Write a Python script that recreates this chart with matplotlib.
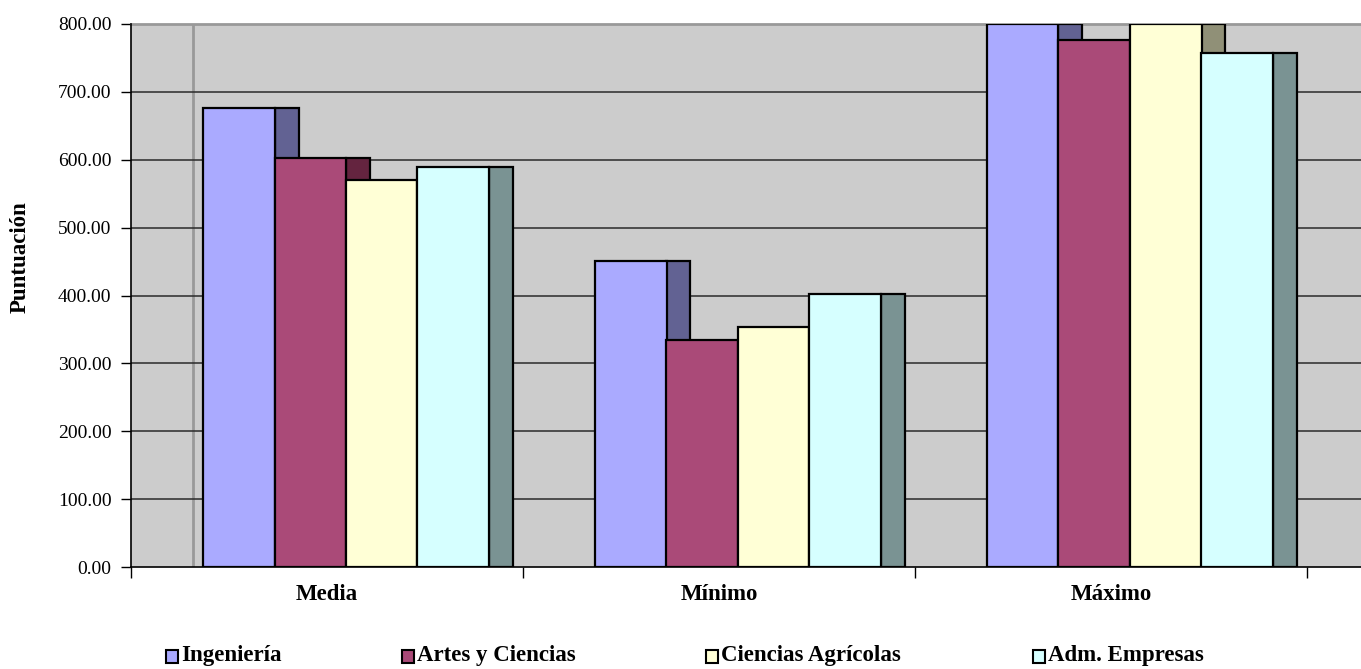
import matplotlib
matplotlib.use('Agg')
import matplotlib.pyplot as plt
from matplotlib.patches import Rectangle
import numpy as np

# data
categories = ['Media', 'Mínimo', 'Máximo']
series = ['Ingeniería', 'Artes y Ciencias', 'Ciencias Agrícolas', 'Adm. Empresas']
ingenieria = [676, 451, 800]
artes = [602, 334, 777]
agricolas = [570, 353, 800]
empresas = [590, 402, 757]
yticks = [0, 100, 200, 300, 400, 500, 600, 700, 800]

front_colors = ['#AAAAFF', '#AA4A78', '#FFFFD6', '#D6FFFF']
side_colors = ['#626293', '#64243F', '#909077', '#7A9393']

plt.rcParams['font.family'] = ['Liberation Serif', 'DejaVu Serif']

W, H = 1361, 669
fig = plt.figure(figsize=(W / 100, H / 100), dpi=100)
ax = fig.add_axes([131 / W, 1 - 567 / H, 1230 / W, 543 / H])
ax.set_facecolor('#CCCCCC')

values = [ingenieria, artes, agricolas, empresas]
x = np.arange(len(categories))
w = 71.5 / 392   # front face width, in category units
d = 24 / 392     # side face depth
offset = 72 / 392

for j, vals in enumerate(values):
    xs = x + offset + j * w
    ax.bar(xs + w, vals, width=d, align='edge', color=side_colors[j],
           edgecolor='black', linewidth=1.6, zorder=3 + 2 * j)
    ax.bar(xs, vals, width=w, align='edge', color=front_colors[j],
           edgecolor='black', linewidth=1.6, zorder=4 + 2 * j)

# back wall edge and gridlines
ax.plot([62 / 392, 62 / 392], [0, 800], color='#999999', lw=2, zorder=1)
for t in yticks[1:-1]:
    ax.axhline(t, color='#2a2a2a', lw=1.1, zorder=2)
ax.axhline(800, color='#999999', lw=2, zorder=2, clip_on=False)

ax.set_xlim(0, 1230 / 392)
ax.set_ylim(0, 800)
ax.set_yticks(yticks)
ax.set_yticklabels(['%.2f' % t for t in yticks], fontsize=14)
ax.set_xticks(np.arange(len(categories) + 1))
ax.set_xticklabels([])
ax.tick_params(axis='y', length=7, width=1, pad=7)
ax.tick_params(axis='x', length=8, width=1)
for c, cat in zip(x, categories):
    ax.text(c + 0.5, -25, cat, ha='center', va='top', fontsize=16.5,
            fontweight='bold')

for s in ['top', 'right']:
    ax.spines[s].set_visible(False)
ax.spines['left'].set_linewidth(1.2)
ax.spines['bottom'].set_linewidth(1.2)

ax.text(-111 / 1230, (567 - 257) / 543, 'Puntuación', transform=ax.transAxes,
        rotation=90, ha='center', va='center', fontsize=16.5, fontweight='bold')

# legend laid out like the original, one entry after another
leg_x = [166, 402, 706, 1033]
for j, name in enumerate(series):
    fig.patches.append(Rectangle((leg_x[j] / W, 1 - 663 / H), 12 / W, 13 / H,
                                 transform=fig.transFigure, facecolor=front_colors[j],
                                 edgecolor='black', linewidth=1.5))
    fig.text((leg_x[j] + 15) / W, 1 - 656 / H, name, ha='left', va='center',
             fontsize=16.5, fontweight='bold')

fig.savefig('out.png', dpi=100)
